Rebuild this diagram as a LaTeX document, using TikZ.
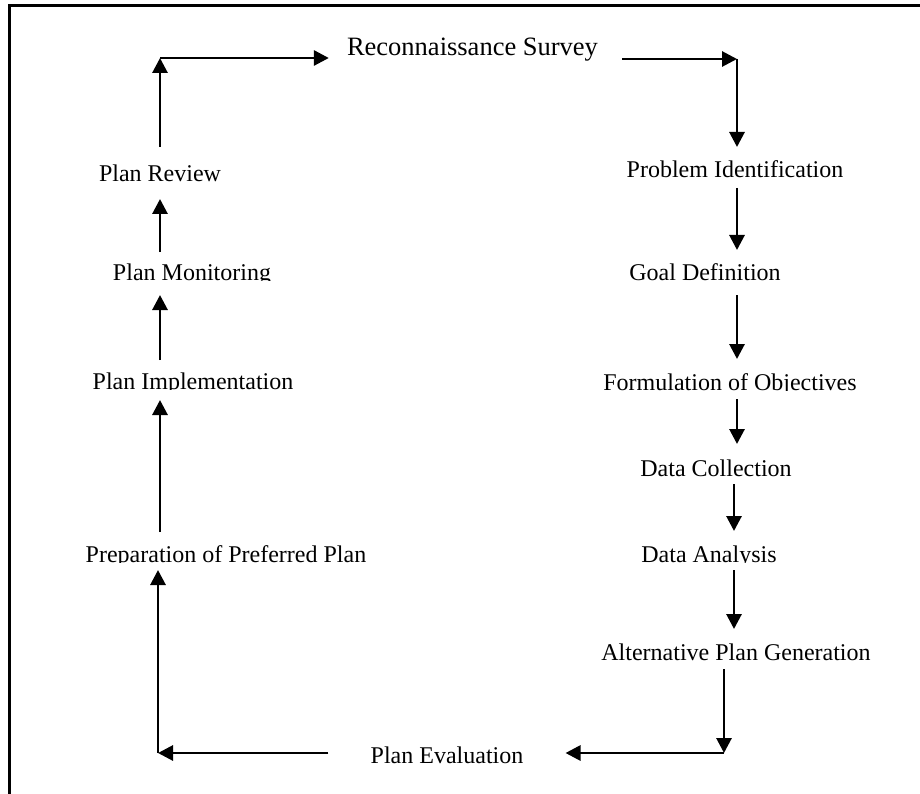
\documentclass[tikz,border=0pt]{standalone}
\usepackage{fontspec}
\setmainfont{Liberation Serif}
\usetikzlibrary{arrows.meta,calc}

% a label whose glyphs are cut off just below the baseline
\newcommand\cutlbl[4]{%
  \begin{scope}
    \clip (#2-220,#3-45) rectangle (#2+220,#3+0.5);
    \node[lbl] (#1) at (#2,#3) {#4};
  \end{scope}}

\begin{document}
\begin{tikzpicture}[x=1pt,y=-1pt,
  lbl/.style={anchor=base, inner sep=0pt, font=\fontsize{24}{28}\selectfont},
  arr/.style={line width=2.9pt, -{Triangle[length=15pt,width=15pt]}},
  frame/.style={line width=3pt}]
\useasboundingbox (0,0) rectangle (920,794);

% outer frame (left and top edges)
\draw[frame] (9,794) -- (9,6) -- (920,6);

% labels
\node[lbl, font=\fontsize{26.5}{30}\selectfont] (rs) at (472.5,56) {Reconnaissance Survey};
\node[lbl] (pr) at (160,182) {Plan Review};
\cutlbl{pm}{192}{280}{Plan Monitoring}
\cutlbl{pi}{193}{389}{Plan Implementation}
\cutlbl{pp}{226}{562}{Preparation of Preferred Plan}
\cutlbl{pe}{447}{763}{Plan Evaluation}
\cutlbl{pri}{735}{178}{Problem Identification}
\cutlbl{gd}{705}{280}{Goal Definition}
\cutlbl{fo}{730}{390}{Formulation of Objectives}
\cutlbl{dc}{716}{476}{Data Collection}
\cutlbl{da}{709}{562}{Data Analysis}
\cutlbl{ap}{736}{660}{Alternative Plan Generation}

% elbows and columns
\coordinate (tl) at (160,58);
\coordinate (tr) at (737,59);
\coordinate (br) at (724,753);
\coordinate (bl) at (158,753);
\coordinate (cL) at (160,0);
\coordinate (cR) at (737,0);
\coordinate (cR2) at (734,0);

% top of the cycle
\draw[arr] ($(pr.base -| tl)+(0,-35)$) -- (tl);
\draw[arr] (tl) -- ($(rs.base west |- tl)+(-18,0)$);
\draw[arr] ($(rs.base east |- tr)+(24,0)$) -- (tr);
\draw[arr] (tr) -- ($(pri.base -| tr)+(0,-31)$);

% right column
\draw[arr] ($(pri.base -| cR)+(0,10)$) -- ($(gd.base -| cR)+(0,-30)$);
\draw[arr] ($(gd.base -| cR)+(0,15)$) -- ($(fo.base -| cR)+(0,-31)$);
\draw[arr] ($(fo.base -| cR)+(0,9)$) -- ($(dc.base -| cR)+(0,-32)$);
\draw[arr] ($(dc.base -| cR2)+(0,8)$) -- ($(da.base -| cR2)+(0,-31)$);
\draw[arr] ($(da.base -| cR2)+(0,8)$) -- ($(ap.base -| cR2)+(0,-31)$);

% bottom of the cycle
\draw[arr] ($(ap.base -| br)+(0,9)$) -- (br);
\draw[arr] (br) -- ($(pe.base east |- br)+(42,0)$);
\draw[arr] ($(pe.base west |- bl)+(-42,0)$) -- (bl);
\draw[arr] (bl) -- ($(pp.base -| bl)+(0,8)$);

% left column
\draw[arr] ($(pp.base -| cL)+(0,-30)$) -- ($(pi.base -| cL)+(0,11)$);
\draw[arr] ($(pi.base -| cL)+(0,-29)$) -- ($(pm.base -| cL)+(0,15)$);
\draw[arr] ($(pm.base -| cL)+(0,-28)$) -- ($(pr.base -| cL)+(0,17)$);
\end{tikzpicture}
\end{document}
